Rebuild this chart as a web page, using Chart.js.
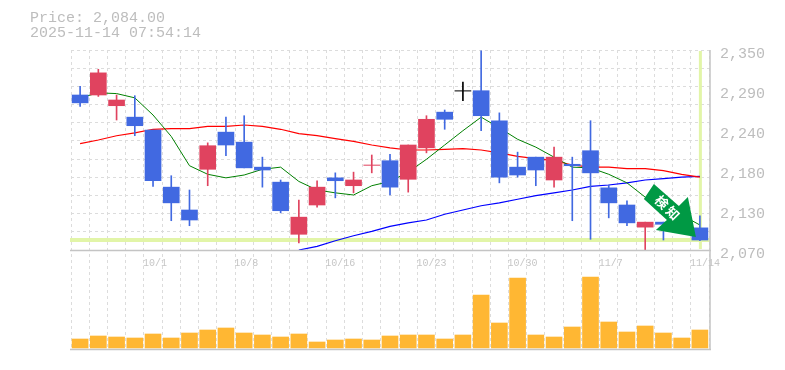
<!DOCTYPE html>
<html><head><meta charset="utf-8">
<style>html,body{margin:0;padding:0;background:#fff}canvas{display:block}</style>
<script src="https://cdn.jsdelivr.net/npm/chart.js@4"></script>
</head><body><canvas id="c" width="785" height="370"></canvas>
<script>
const headerLines = ['Price: 2,084.00', '2025-11-14 07:54:14'];
const dateLabels = ['','','','','10/1','','','','','10/8','','','','','10/16','','','','','10/23','','','','','10/30','','','','','11/7','','','','','11/14'];
const priceTickValues = [2070, 2126, 2182, 2238, 2294, 2350];
const priceTickLabels = ['2,070', '2,130', '2,180', '2,240', '2,290', '2,350'];
const lastPrice = 2084;
const bodyTop = [2287,2318,2280,2256,2238,2158,2126,2216,2235,2221,2186,2165,2116,2158,2171,2168,2189,2195,2217,2253,2263,2293,2293,2251,2186,2200,2200,2190,2209,2157,2133,2109,2109,2103,2101];
const bodyBottom = [2276,2287,2272,2244,2167,2136,2112,2183,2217,2185,2182,2125,2092,2133,2167,2160,2188.5,2158,2169,2213,2253,2292.5,2258,2172,2175,2182,2168,2188,2178,2136,2108,2102,2106,2098,2084];
const highs = [2299,2323,2287,2286,2238,2174,2154,2220,2256,2258,2200,2168,2140,2167,2178,2179,2203,2204,2217,2258,2266,2305,2349,2262,2207,2200,2214,2200,2251,2161,2139,2109,2109,2110,2118];
const lows = [2271,2285,2252,2230,2159,2111,2104,2160,2202,2185,2158,2122,2080,2130,2143,2150,2178,2147,2151,2206,2239,2279,2237,2164,2172,2160,2158,2111,2085,2115,2104,2070,2084,2096,2083];
const kinds = ['d','u','u','d','d','d','d','u','d','d','d','d','u','u','d','u','u','d','u','u','d','n','d','d','d','d','u','d','d','d','d','u','d','d','d'];
const maShort = [2283,2290,2289,2283,2259,2229,2188,2176,2171,2175,2183,2186,2166,2154,2150,2147,2160,2166,2179,2197,2217,2237,2256,2241,2225,2214,2200,2186,2185,2176,2164,2144,2132,2119,2105];
const maMid = [2219,2224,2230,2234,2239,2240,2240,2243,2243,2245,2243,2239,2233,2230,2226,2222,2217,2213,2210,2210,2211,2212,2210,2206,2201,2198,2195,2189,2186,2186,2184,2184,2181,2176,2172];
const maLong = [null,null,null,null,null,null,null,null,null,null,null,null,2070,2075,2083,2090,2096,2103,2108,2112,2120,2126,2132,2136,2141,2146,2150,2154,2159,2161,2164,2168,2170,2172,2173];
const volumes = [90,120,110,100,140,100,150,180,200,150,130,110,140,60,80,90,80,120,130,130,90,130,530,250,700,130,110,210,710,260,160,220,150,100,180];
const signalText = ['検', '知'];

const palette = {u:'#E0435F', d:'#4169E1', n:'#000000'};
const candleColors = kinds.map(k => palette[k]);
const priceMin = 2070, priceMax = 2350, gridSteps = 11;
const gridValues = Array.from({length: gridSteps + 1}, (_, i) => priceMin + i * (priceMax - priceMin) / gridSteps);
const labelOnly = priceTickValues.filter(v => v !== priceMin && v !== priceMax);
const greyText = '#bdbdbd', gridColor = '#dcdcdc';

const overlay = {
  id: 'overlay',
  beforeDatasetsDraw(chart) {
    const {ctx, chartArea: a, scales} = chart;
    const y = scales.yPrice.getPixelForValue(lastPrice);
    const x = scales.x.getPixelForValue(bodyTop.length - 1);
    ctx.save();
    ctx.fillStyle = '#E2F5A8';
    ctx.fillRect(a.left - 1, y - 2, a.width + 2, 4);
    ctx.fillRect(x - 1, a.top + 1, 3, scales.yPrice.bottom - a.top - 2);
    ctx.restore();
  },
  afterDatasetsDraw(chart) {
    const {ctx, chartArea: a, scales} = chart;
    const midY = scales.yPrice.bottom;
    ctx.save();
    ctx.strokeStyle = '#c4c4c4';
    ctx.lineWidth = 1.5;
    ctx.beginPath();
    ctx.moveTo(a.left - 1, midY + 0.5); ctx.lineTo(a.right + 2, midY + 0.5);
    ctx.moveTo(a.left - 1, a.bottom - 0.5); ctx.lineTo(a.right + 2, a.bottom - 0.5);
    ctx.moveTo(a.right + 1, a.top); ctx.lineTo(a.right + 1, a.bottom);
    ctx.stroke();

    // signal arrow anchored on the last candle
    const ax = scales.x.getPixelForValue(bodyTop.length - 1);
    const ay = scales.yPrice.getPixelForValue(lastPrice);
    const shape = [[-46,-56],[-21,-34],[-12,-43],[-4,-3],[-44,-10],[-33,-20],[-56,-41]];
    ctx.fillStyle = '#009944';
    ctx.beginPath();
    shape.forEach((p, i) => i ? ctx.lineTo(ax + p[0], ay + p[1]) : ctx.moveTo(ax + p[0], ay + p[1]));
    ctx.closePath();
    ctx.fill();
    ctx.fillStyle = '#ffffff';
    ctx.font = 'bold 13px "Noto Sans CJK JP"';
    ctx.textAlign = 'center';
    ctx.textBaseline = 'middle';
    [[-38,-38],[-27,-27]].forEach((p, i) => {
      ctx.save();
      ctx.translate(ax + p[0], ay + p[1]);
      ctx.rotate(Math.PI / 4);
      ctx.fillText(signalText[i], 0, 0);
      ctx.restore();
    });

    // header
    ctx.fillStyle = greyText;
    ctx.font = '15px "Liberation Mono"';
    ctx.textAlign = 'left';
    ctx.textBaseline = 'middle';
    headerLines.forEach((t, i) => ctx.fillText(t, 30, 18 + i * 15));
    ctx.restore();
  }
};

const lineBase = {type:'line', yAxisID:'yPrice', pointRadius:0, fill:false, tension:0, order:3, spanGaps:false};

new Chart(document.getElementById('c'), {
  data: {
    labels: dateLabels,
    datasets: [
      {type:'bar', yAxisID:'yVol', data: volumes, backgroundColor:'#FFB733', barThickness:16, order:4},
      {...lineBase, data: maShort, borderColor:'#008000', borderWidth:1},
      {...lineBase, data: maMid, borderColor:'#FF0000', borderWidth:1.2},
      {...lineBase, data: maLong, borderColor:'#0000FF', borderWidth:1.2},
      {type:'bar', yAxisID:'yPrice', grouped:false, data: lows.map((l, i) => [l, highs[i]]), backgroundColor:candleColors, barThickness:1, order:2},
      {type:'bar', yAxisID:'yPrice', grouped:false, data: bodyBottom.map((b, i) => [b, bodyTop[i]]), backgroundColor:candleColors, barThickness:16, order:1}
    ]
  },
  options: {
    responsive:false, animation:false, events:[],
    layout:{padding:{left:71, top:50, bottom:20, right:0}},
    plugins:{legend:{display:false}, tooltip:{enabled:false}, title:{display:false}},
    scales:{
      x:{
        type:'category', stacked:false,
        position:{yPrice: priceMin},
        border:{display:false, dash:[3,3]},
        grid:{offset:true, color:gridColor, lineWidth:1, drawTicks:false, tickLength:0},
        ticks:{autoSkip:false, maxRotation:0, minRotation:0, align:'start', labelOffset:-10, padding:7, color:'#c6c6c6', font:{family:'"Liberation Mono"', size:10}}
      },
      yPrice:{
        type:'linear', position:'right', stack:'panels', stackWeight:2, min:priceMin, max:priceMax,
        border:{display:false, dash:[3,3]},
        afterFit(s){ s.width = 76; },
        afterBuildTicks(s){ s.ticks = gridValues.concat(labelOnly).sort((a,b)=>a-b).map(v => ({value:v})); },
        grid:{
          drawTicks:false, tickLength:0, lineWidth:1,
          color: c => (c.tick && labelOnly.includes(c.tick.value)) ? 'rgba(0,0,0,0)' : gridColor
        },
        ticks:{
          autoSkip:false, padding:11, crossAlign:'near', labelOffset:4, color:greyText, font:{family:'"Liberation Mono"', size:15},
          callback: v => { const i = priceTickValues.indexOf(v); return i < 0 ? '' : priceTickLabels[i]; }
        }
      },
      yVol:{
        type:'linear', position:'right', stack:'panels', stackWeight:1, min:-20, max:980,
        border:{display:false},
        afterFit(s){ s.width = 76; },
        grid:{display:false, drawTicks:false},
        ticks:{display:false}
      }
    }
  },
  plugins:[overlay]
});
</script></body></html>
